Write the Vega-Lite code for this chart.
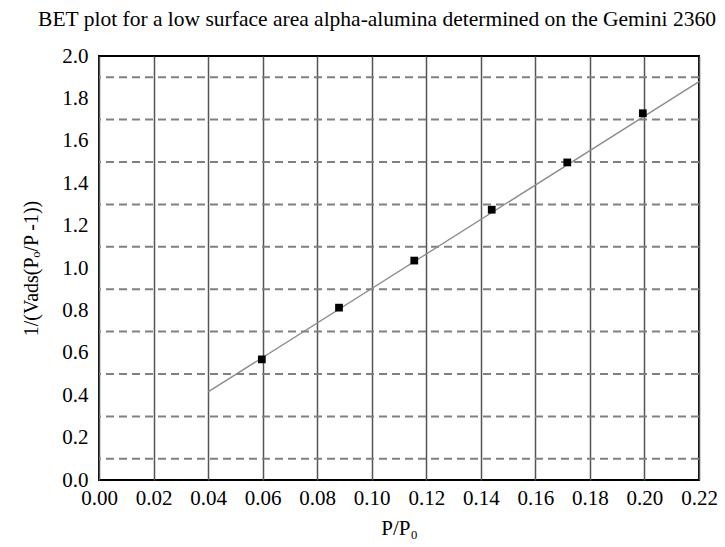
{
  "$schema": "https://vega.github.io/schema/vega-lite/v6.json",
  "autosize": "none",
  "width": 600,
  "height": 424,
  "padding": {"left": 99, "top": 56, "right": 26, "bottom": 67},
  "background": "white",
  "config": {
    "font": "Liberation Serif",
    "view": {"stroke": "black", "strokeWidth": 2}
  },
  "title": {
    "text": "BET plot for a low surface area alpha-alumina determined on the Gemini 2360",
    "font": "Liberation Serif",
    "fontSize": 21.5,
    "fontWeight": "normal",
    "color": "black",
    "anchor": "middle",
    "dx": -22,
    "offset": 15
  },
  "datasets": {
    "points": [
      {"x": 0.0597, "y": 0.569},
      {"x": 0.0880, "y": 0.813},
      {"x": 0.1156, "y": 1.035},
      {"x": 0.1440, "y": 1.275},
      {"x": 0.1717, "y": 1.498},
      {"x": 0.1994, "y": 1.730}
    ],
    "fit": [
      {"x": 0.04, "y": 0.4155},
      {"x": 0.22, "y": 1.879}
    ],
    "hgrid": [
      {"y": 0.1}, {"y": 0.3}, {"y": 0.5}, {"y": 0.7}, {"y": 0.9},
      {"y": 1.1}, {"y": 1.3}, {"y": 1.5}, {"y": 1.7}, {"y": 1.9}
    ]
  },
  "layer": [
    {
      "data": {"name": "hgrid"},
      "mark": {"type": "rule", "color": "#808080", "strokeWidth": 2, "strokeDash": [8, 5]},
      "encoding": {
        "y": {
          "field": "y", "type": "quantitative",
          "scale": {"domain": [0, 2], "nice": false},
          "axis": {
            "title": "1/(Vads(Pₒ/P -1))",
            "titleFont": "Liberation Serif",
            "titleFontSize": 20,
            "titleFontWeight": "normal",
            "titleColor": "black",
            "titlePadding": 20,
            "values": [0, 0.2, 0.4, 0.6, 0.8, 1.0, 1.2, 1.4, 1.6, 1.8, 2.0],
            "format": ".1f",
            "labelFont": "Liberation Serif",
            "labelFontSize": 21,
            "labelColor": "black",
            "labelPadding": 11,
            "labelFlush": false,
            "labelOverlap": false,
            "ticks": false,
            "domain": false,
            "grid": false
          }
        }
      }
    },
    {
      "data": {"name": "fit"},
      "mark": {"type": "line", "color": "#8a8a8a", "strokeWidth": 1.3},
      "encoding": {
        "x": {
          "field": "x", "type": "quantitative",
          "scale": {"domain": [0, 0.22], "nice": false},
          "axis": {
            "title": "P/P₀",
            "titleFont": "Liberation Serif",
            "titleFontSize": 21,
            "titleFontWeight": "normal",
            "titleColor": "black",
            "titlePadding": 9,
            "values": [0, 0.02, 0.04, 0.06, 0.08, 0.10, 0.12, 0.14, 0.16, 0.18, 0.20, 0.22],
            "format": ".2f",
            "labelFont": "Liberation Serif",
            "labelFontSize": 21,
            "labelColor": "black",
            "labelPadding": 7,
            "labelFlush": false,
            "labelOverlap": false,
            "ticks": false,
            "domain": false,
            "grid": true,
            "gridColor": "#555555",
            "gridWidth": 1.5,
            "gridOpacity": 1
          }
        },
        "y": {"field": "y", "type": "quantitative"}
      }
    },
    {
      "data": {"name": "points"},
      "mark": {"type": "square", "color": "black", "filled": true, "size": 60, "opacity": 1},
      "encoding": {
        "x": {"field": "x", "type": "quantitative"},
        "y": {"field": "y", "type": "quantitative"}
      }
    }
  ]
}
